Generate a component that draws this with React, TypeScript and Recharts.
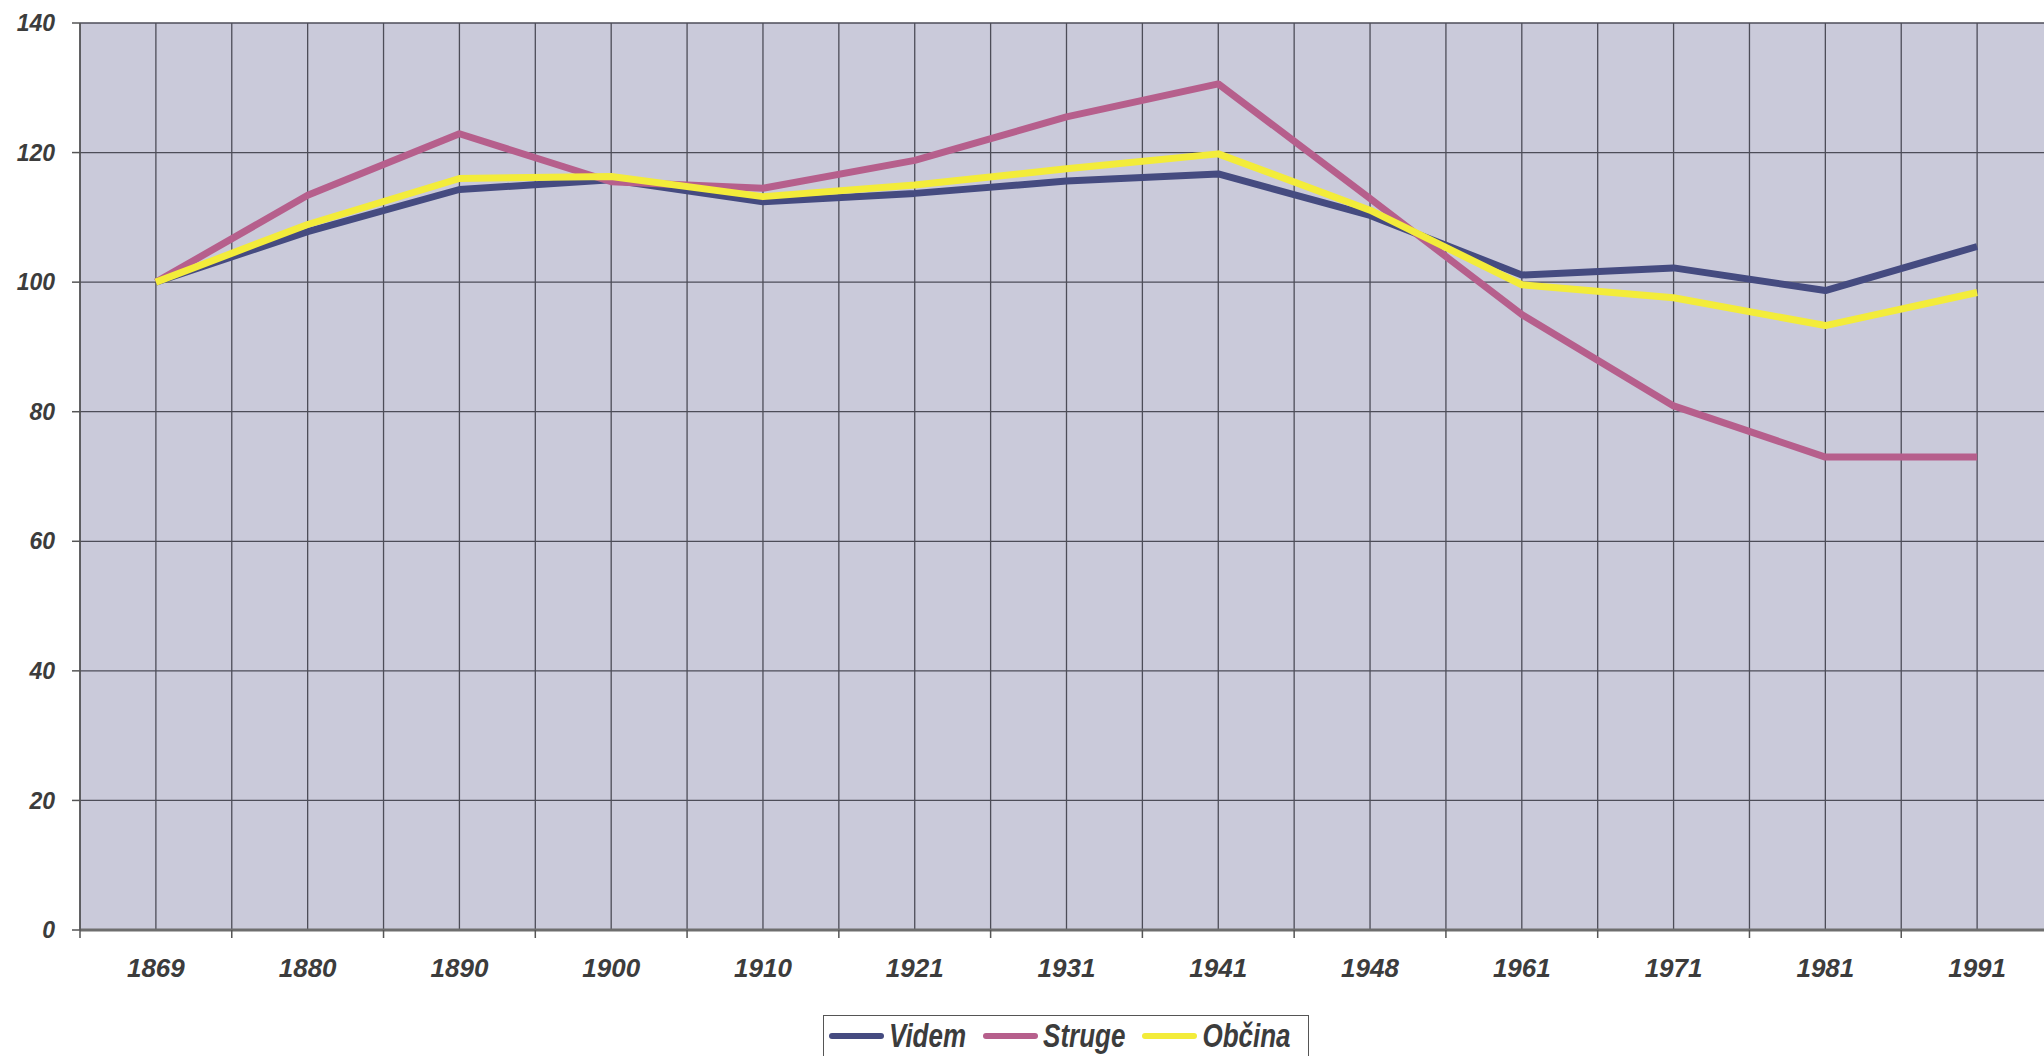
import React from 'react';
import { LineChart, Line, XAxis, YAxis, CartesianGrid, Legend } from 'recharts';

const years = ['1869', '1880', '1890', '1900', '1910', '1921', '1931', '1941', '1948', '1961', '1971', '1981', '1991'];
const videm = [100, 107.8, 114.3, 115.8, 112.4, 113.7, 115.6, 116.7, 110.3, 101.1, 102.2, 98.7, 105.5];
const struge = [100, 113.4, 122.9, 115.5, 114.5, 118.8, 125.5, 130.6, 112.9, 95.0, 80.9, 73.0, 73.0];
const obcina = [100, 108.9, 116.0, 116.3, 113.2, 115.0, 117.5, 119.8, 111.1, 99.6, 97.6, 93.3, 98.4];
const yTicks = [0, 20, 40, 60, 80, 100, 120, 140];

const series = [
  { key: 'videm', name: 'Videm', color: '#454b80' },
  { key: 'struge', name: 'Struge', color: '#b65f8c' },
  { key: 'obcina', name: 'Občina', color: '#f3ec3a' },
];

const data = years.map((year, i) => ({
  year,
  videm: videm[i],
  struge: struge[i],
  obcina: obcina[i],
}));

const CHART_W = 2060;
const CHART_H = 1056;
const MARGIN = { top: 23, right: 7, bottom: 0, left: 0 };
const Y_W = 80;
const X_H = 126;
const plotW = CHART_W - MARGIN.left - MARGIN.right - Y_W;
const band = plotW / years.length;

const font = '"Liberation Sans", Arial, sans-serif';
const textColor = '#3c3c3c';

const XTick = ({ x, y, payload }: any) => (
  <g>
    <line x1={x - band / 2} x2={x - band / 2} y1={y} y2={y + 8} stroke="#555" strokeWidth={1.5} />
    <text
      x={x}
      y={y + 47}
      textAnchor="middle"
      fontFamily={font}
      fontSize={26}
      fontWeight="bold"
      fontStyle="italic"
      fill={textColor}
    >
      {payload.value}
    </text>
  </g>
);

const LegendBox = () => (
  <div
    style={{
      boxSizing: 'border-box',
      width: 486,
      height: 60,
      border: '1.5px solid #555',
      background: '#fff',
      display: 'flex',
      alignItems: 'flex-start',
      paddingLeft: 5,
      paddingTop: 17,
      gap: 17,
      fontFamily: font,
    }}
  >
    {series.map(s => (
      <div key={s.key} style={{ display: 'flex', alignItems: 'center', gap: 5 }}>
        <span style={{ display: 'inline-block', width: 55, height: 6, borderRadius: 3, background: s.color }} />
        <span
          style={{
            display: 'inline-block',
            fontSize: 26,
            lineHeight: '6px',
            fontWeight: 'bold',
            fontStyle: 'italic',
            color: textColor,
            transform: 'scaleY(1.25)',
          }}
        >
          {s.name}
        </span>
      </div>
    ))}
  </div>
);

export default function App() {
  return (
    <div
      style={{
        position: 'fixed',
        left: 0,
        top: 0,
        width: 2044,
        height: 1056,
        overflow: 'hidden',
        background: '#fff',
      }}
    >
      <LineChart width={CHART_W} height={CHART_H} data={data} margin={MARGIN}>
        <CartesianGrid
          fill="#cacada"
          stroke="#4d4d58"
          strokeWidth={1.3}
          verticalCoordinatesGenerator={({ offset }: any) =>
            Array.from({ length: years.length * 2 + 1 }, (_, i) => offset.left + (i * offset.width) / (years.length * 2))
          }
        />
        <XAxis
          dataKey="year"
          scale="band"
          height={X_H}
          tickSize={0}
          tickMargin={0}
          tickLine={false}
          axisLine={{ stroke: '#6e6e6e', strokeWidth: 3 }}
          tick={<XTick />}
          interval={0}
        />
        <YAxis
          width={Y_W}
          domain={[0, 140]}
          ticks={yTicks}
          interval={0}
          tickSize={8}
          tickMargin={17}
          axisLine={{ stroke: '#555', strokeWidth: 1.5 }}
          tickLine={{ stroke: '#555', strokeWidth: 1.5 }}
          tick={{ fontFamily: font, fontSize: 23, fontWeight: 'bold', fontStyle: 'italic', fill: textColor }}
        />
        {series.map(s => (
          <Line
            key={s.key}
            type="linear"
            dataKey={s.key}
            name={s.name}
            stroke={s.color}
            strokeWidth={7}
            strokeLinejoin="round"
            dot={false}
            activeDot={false}
            isAnimationActive={false}
          />
        ))}
        <Legend
          layout="horizontal"
          verticalAlign="middle"
          align="center"
          content={() => <LegendBox />}
          wrapperStyle={{ top: 1015, left: 823, width: 486, height: 60 }}
        />
      </LineChart>
    </div>
  );
}
